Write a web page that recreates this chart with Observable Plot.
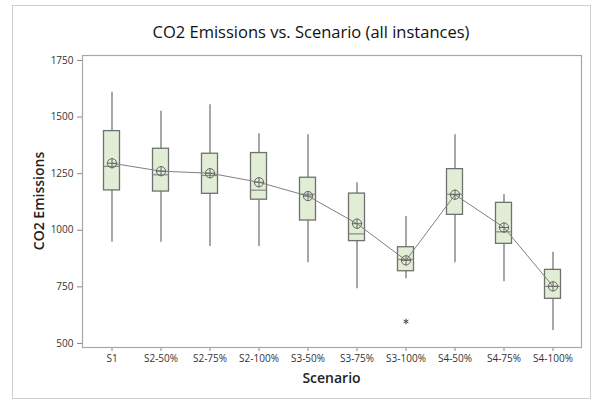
<!DOCTYPE html>
<html>
<head>
<meta charset="utf-8">
<script src="https://cdn.jsdelivr.net/npm/d3@7"></script>
<script src="https://cdn.jsdelivr.net/npm/@observablehq/plot@0.6"></script>
<style>
  html, body { margin: 0; padding: 0; background: #fff; }
  #wrap { position: relative; width: 601px; height: 405px; overflow: hidden; font-family: "Open Sans", "Noto Sans", sans-serif; }
  #border { position: absolute; left: 12px; top: 5px; width: 577px; height: 392px; border: 1px solid #cfcfcf; }
  #title { position: absolute; top: 20px; left: 0; width: 622px; text-align: center; font-size: 16.5px; color: #111; }
  #ylab { position: absolute; left: 38px; top: 201px; transform: translate(-50%, -50%) rotate(-90deg); font-size: 14px; font-weight: 600; color: #222; white-space: nowrap; }
  #xlab { position: absolute; top: 368px; left: 82px; width: 499px; text-align: center; font-size: 14px; font-weight: 600; color: #222; }
  #chart { position: absolute; left: 0; top: 0; }
  #chart svg text { fill: #333; }
</style>
</head>
<body>
<div id="wrap">
  <div id="border"></div>
  <div id="chart"></div>
  <div id="title">CO2 Emissions vs. Scenario (all instances)</div>
  <div id="ylab">CO2 Emissions</div>
  <div id="xlab">Scenario</div>
</div>
<script>
const scenarios = ["S1","S2-50%","S2-75%","S2-100%","S3-50%","S3-75%","S3-100%","S4-50%","S4-75%","S4-100%"];
const whiskerLow  = [947, 947, 928, 928, 856, 742, 786, 856, 772, 557];
const q1          = [1176, 1171, 1161, 1135, 1043, 952, 819, 1068, 940, 697];
const medians     = [1282, 1245, 1242, 1177, 1159, 984, 871, 1159, 993, 752];
const q3          = [1438, 1360, 1338, 1341, 1232, 1162, 925, 1270, 1121, 825];
const whiskerHigh = [1610, 1526, 1554, 1426, 1422, 1210, 1061, 1422, 1158, 903];
const means       = [1296, 1261, 1252, 1212, 1151, 1029, 867, 1157, 1012, 752];
const outlierScenarios = ["S3-100%"];
const outlierValues = [597];
const yTicks = [500, 750, 1000, 1250, 1500, 1750];

const rows = scenarios.map((s, i) => ({
  scenario: s, lo: whiskerLow[i], q1: q1[i], med: medians[i], q3: q3[i], hi: whiskerHigh[i], mean: means[i]
}));
const outliers = outlierScenarios.map((s, i) => ({scenario: s, value: outlierValues[i]}));

const boxInset = 16.5;
const chart = Plot.plot({
  width: 601,
  height: 405,
  marginLeft: 82,
  marginRight: 20,
  marginTop: 55,
  marginBottom: 58,
  style: {fontFamily: "Open Sans, Noto Sans, sans-serif", fontSize: "10px", background: "transparent"},
  x: {type: "band", domain: scenarios, padding: 0, label: null, tickSize: 4, tickPadding: 3},
  y: {domain: [482, 1772], ticks: yTicks, tickFormat: d => String(d), label: null, tickSize: 5, tickPadding: 4},
  marks: [
    Plot.ruleX(rows, {x: "scenario", y1: "lo", y2: "hi", stroke: "#777", strokeWidth: 1.3}),
    Plot.barY(rows, {x: "scenario", y1: "q1", y2: "q3", fill: "#e2edd6", stroke: "#707070", strokeWidth: 1.3, insetLeft: boxInset, insetRight: boxInset}),
    Plot.tickY(rows, {x: "scenario", y: "med", stroke: "#555", strokeWidth: 1.2, insetLeft: boxInset, insetRight: boxInset}),
    Plot.line(rows, {x: "scenario", y: "mean", stroke: "#808080", strokeWidth: 1}),
    Plot.dot(rows, {x: "scenario", y: "mean", r: 4.6, stroke: "#666", strokeWidth: 1, fill: "none"}),
    Plot.dot(rows, {x: "scenario", y: "mean", r: 3.4, symbol: "plus", stroke: "#666", strokeWidth: 1}),
    Plot.dot(outliers, {x: "scenario", y: "value", r: 2.6, symbol: "asterisk", stroke: "#444", strokeWidth: 1}),
    Plot.frame({stroke: "#a8a8a8", strokeWidth: 1.2})
  ]
});
chart.querySelectorAll('[aria-label$="tick"]').forEach(g => g.setAttribute("stroke", "#888"));
document.getElementById("chart").appendChild(chart);
</script>
</body>
</html>
